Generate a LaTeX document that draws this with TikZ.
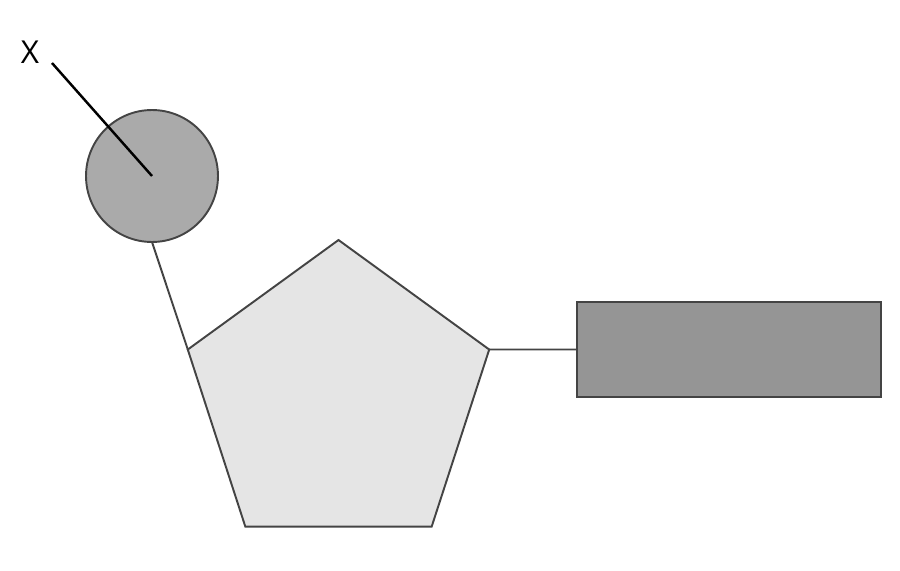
\documentclass[tikz,border=0pt]{standalone}
\usepackage{fontspec}
\setmainfont{Open Sans}
\usetikzlibrary{shapes.geometric}
\definecolor{edgegray}{HTML}{444444}
\definecolor{ballgray}{HTML}{AAAAAA}
\definecolor{ringgray}{HTML}{E5E5E5}
\definecolor{basegray}{HTML}{959595}
\begin{document}
\begin{tikzpicture}[
            x=0.02cm, y=-0.02cm,
            part/.style={draw=edgegray, line width=1.1pt, inner sep=0pt, outer sep=0pt},
            link/.style={draw=edgegray, line width=1.1pt},
        ]
            \useasboundingbox (0,0) rectangle (900,571);
            % phosphate ball
            \node[part, circle, fill=ballgray, minimum size=2.64cm] (ball) at (152,176) {};
            % sugar ring
            \node[part, regular polygon, regular polygon sides=5, fill=ringgray,
                  minimum size=6.34cm] (ring) at (338.5,398.5) {};
            % base
            \node[part, rectangle, fill=basegray, minimum width=6.08cm,
                  minimum height=1.9cm] (base) at (729,349.5) {};

            \draw[link] (ball.south) -- (ring.corner 2);
            \draw[link] (ring.corner 5) -- (base.west);

            % label X
            \node[font=\fontsize{18}{21}\selectfont, inner sep=0pt] (xlab) at (30,52) {X};
            \coordinate (xend) at (52,63);
            \draw[line width=1.4pt, black] (xend) -- (ball.center);
        \end{tikzpicture}
\end{document}
